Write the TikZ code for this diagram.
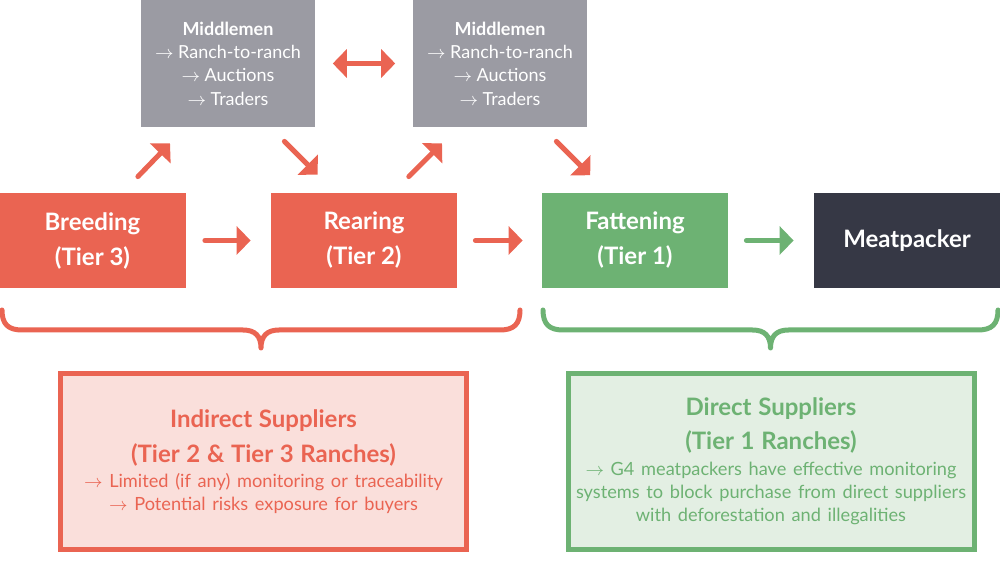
\documentclass[tikz,border=0pt]{standalone}
\usepackage{fontspec}
\setmainfont{Lato}
\usetikzlibrary{arrows.meta}

\definecolor{ranchred}{HTML}{EA6452}
\definecolor{ranchgreen}{HTML}{6DB273}
\definecolor{midgray}{HTML}{9B9BA3}
\definecolor{packerdark}{HTML}{363845}
\definecolor{redfill}{HTML}{FADFDB}
\definecolor{greenfill}{HTML}{E3EFE3}
\newcommand{\tarrow}{$\rightarrow$}

\begin{document}
\begin{tikzpicture}[x=0.5pt, y=-0.5pt,
  stage/.style={inner sep=0pt, minimum width=93pt, minimum height=47.5pt, align=center,
    text=white, font=\fontsize{12}{17.5}\selectfont\bfseries},
  middle/.style={fill=midgray, inner sep=0pt, minimum width=87pt, minimum height=63.5pt,
    align=center, text=white, font=\fontsize{9}{11.7}\selectfont},
  infobox/.style={line width=2.5pt, inner sep=0pt, minimum width=203pt, minimum height=88pt,
    text width=203pt, align=center},
  redarrow/.style={draw=ranchred, line width=2.5pt, line cap=round, -{Triangle[length=7pt, width=14pt]}},
  greenarrow/.style={redarrow, draw=ranchgreen},
  twoway/.style={redarrow, {Triangle[length=7pt, width=14pt]}-{Triangle[length=7pt, width=14pt]}}]
  \useasboundingbox (0,0) rectangle (1000,581);
  % stages of the supply chain
  \node[stage, fill=ranchred] (breed) at (92.5,240.5) {Breeding\\(Tier 3)};
  \node[stage, fill=ranchred] (rear) at (364,240.5) {Rearing\\(Tier 2)};
  \node[stage, fill=ranchgreen] (fat) at (635,240.5) {Fattening\\(Tier 1)};
  \node[stage, fill=packerdark] (meat) at (907,240.5) {Meatpacker};
  % middlemen
  \node[middle] (mid1) at (228,63.5) {\textbf{Middlemen}\\\tarrow{} Ranch-to-ranch\\\tarrow{} Auctions\\\tarrow{} Traders};
  \node[middle] (mid2) at (500,63.5) {\textbf{Middlemen}\\\tarrow{} Ranch-to-ranch\\\tarrow{} Auctions\\\tarrow{} Traders};
  % flows
  \draw[redarrow, shorten <=9.5pt, shorten >=10pt] (breed) -- (rear);
  \draw[redarrow, shorten <=9pt, shorten >=9.5pt] (rear) -- (fat);
  \draw[greenarrow, shorten <=9pt, shorten >=10pt] (fat) -- (meat);
  \draw[twoway, shorten <=8.7pt, shorten >=8.7pt] (mid1) -- (mid2);
  \draw[redarrow] ([xshift=-24pt, yshift=8pt]breed.north east) -- ([xshift=14.7pt, yshift=-8pt]mid1.south west);
  \draw[redarrow] ([xshift=-15.5pt, yshift=-7pt]mid1.south east) -- ([xshift=23.5pt, yshift=9pt]rear.north west);
  \draw[redarrow] ([xshift=-24.3pt, yshift=8pt]rear.north east) -- ([xshift=14.7pt, yshift=-8pt]mid2.south west);
  \draw[redarrow] ([xshift=-15.5pt, yshift=-7pt]mid2.south east) -- ([xshift=24.3pt, yshift=8.7pt]fat.north west);
  % braces
  \foreach \xa/\xb/\col in {2/520/ranchred, 543/998/ranchgreen} {
    \pgfmathsetmacro{\xm}{(\xa+\xb)/2}
    \draw[\col, line width=2.5pt, line cap=round, line join=round]
      (\xa,310) .. controls (\xa,324) and (\xa+6,330) .. (\xa+20,330) -- (\xm-18,330)
      .. controls (\xm-6,330) and (\xm,336) .. (\xm,348)
      .. controls (\xm,336) and (\xm+6,330) .. (\xm+18,330) -- (\xb-20,330)
      .. controls (\xb-6,330) and (\xb,324) .. (\xb,310);
  }
  % supplier groups
  \node[infobox, draw=ranchred, fill=redfill, text=ranchred] (indirect) at (263.5,461.5)
    {{\fontsize{12}{17.5}\selectfont\bfseries Indirect Suppliers\\(Tier 2 \& Tier 3 Ranches)\par}
     \vspace{1pt}
     {\fontsize{9.1}{11.5}\selectfont \tarrow{} Limited (if any) monitoring or traceability\\
      \tarrow{} Potential risks exposure for buyers\par}};
  \node[infobox, draw=ranchgreen, fill=greenfill, text=ranchgreen] (direct) at (771,461.5)
    {{\fontsize{12}{17}\selectfont\bfseries Direct Suppliers\\(Tier 1 Ranches)\par}
     \vspace{1pt}
     {\fontsize{9.1}{11.7}\selectfont \tarrow{} G4 meatpackers have effective monitoring\\
      systems to block purchase from direct suppliers\\
      with deforestation and illegalities\par}};
\end{tikzpicture}
\end{document}
